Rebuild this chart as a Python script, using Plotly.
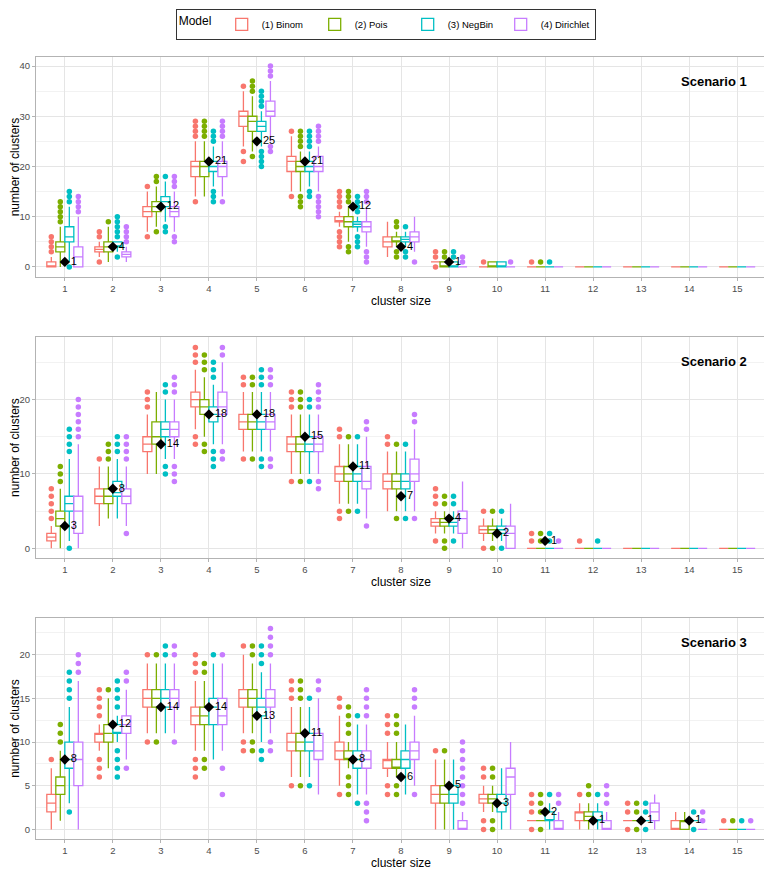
import plotly.graph_objects as go
from plotly.subplots import make_subplots

SIZES = list(range(1, 16))
MODELS = ["(1) Binom", "(2) Pois", "(3) NegBin", "(4) Dirichlet"]
COLORS = ["#F8766D", "#7CAE00", "#00BFC4", "#C77CFF"]
SCENARIOS = ["Scenario 1", "Scenario 2", "Scenario 3"]

Z = (0, 0, 0, 0, 0)

# box stats per cluster size: (lower whisker, q1, median, q3, upper whisker)
# ---- Scenario 1
S1_BINOM = [(0, 0, 0, 1, 2), (2, 3, 3.5, 4, 5), (7, 10, 11, 12, 15), (14, 18, 20, 21, 25),
            (24, 28, 30, 31, 35), (15, 19, 21, 22, 26), (8, 9, 9, 10, 11), (2, 4, 5, 6, 9),
            (1, 1, 1, 1, 1), Z, Z, Z, Z, Z, Z]
S1_BINOM_OUT = [[3, 4, 5, 6], [1, 6, 7], [6, 16], [13, 26, 27, 28, 29], [21, 23, 36], [14, 27],
                [4, 5, 6, 7, 12, 13, 14, 15], [], [0, 2, 3], [1], [1], [], [], [], []]
S1_POIS = [(0, 3, 4, 5, 8), (1, 3, 4, 5, 8), (8, 11, 12, 13, 16), (14, 18, 20, 21, 25),
           (23, 27, 29, 30, 34), (15, 19, 20, 21, 23), (5, 8, 9, 10, 12), (4, 5, 5, 6, 7),
           (0, 0, 0, 1, 1), (0, 0, 0, 1, 1), Z, Z, Z, Z, Z]
S1_POIS_OUT = [[9, 10, 11, 12, 13], [9], [7, 17, 18], [26, 27, 28, 29], [22, 35, 36, 37],
               [12, 13, 14, 24, 25, 26, 27], [3, 4, 13, 14, 15], [2, 3, 8, 9], [2, 3], [], [1],
               [], [], [], []]
S1_NEGBIN = [(1, 5, 6, 8, 12), (3, 4, 4, 5, 5), (9, 12, 13, 14, 17), (16, 19, 20, 21, 24),
             (24, 27, 28, 29, 31), (16, 19, 20, 21, 23), (7, 8, 8.5, 9, 10), (4, 5, 5.5, 6, 7),
             (0, 0, 0, 1, 1), (0, 0, 0, 1, 1), Z, Z, Z, Z, Z]
S1_NEGBIN_OUT = [[0, 13, 14, 15], [2, 6, 7, 8, 9, 10], [7, 8, 18], [13, 14, 15, 25, 26, 27],
                 [20, 21, 22, 23, 32, 33, 34, 35], [14, 15, 24, 25, 26, 27],
                 [4, 5, 6, 11, 12, 13, 14], [2, 3, 8], [2, 3], [], [1], [], [], [], []]
S1_DIRICHLET = [(0, 0, 2, 4, 10), (1, 2, 2.5, 3, 4), (7, 10, 11, 12, 15), (14, 18, 20, 21, 25),
                (25, 30, 31, 33, 37), (15, 19, 20, 22, 24), (4, 7, 8, 9, 12), (3, 5, 6, 7, 10),
                Z, Z, Z, Z, Z, Z, Z]
S1_DIRICHLET_OUT = [[11, 12, 13, 14], [5, 6, 7, 8], [5, 6, 16, 17, 18], [13, 26, 27, 28, 29],
                    [23, 24, 38, 39, 40], [10, 11, 12, 13, 14, 25, 26, 27, 28],
                    [1, 2, 3, 13, 14, 15], [1], [1, 2], [1], [], [], [], [], []]
S1_TRUTH = [1, 4, 12, 21, 25, 21, 12, 4, 1, 0, 0, 0, 0, 0, 0]

# ---- Scenario 2
S2_BINOM = [(0, 1, 1.5, 2, 3), (3, 6, 7, 8, 11), (10, 13, 14, 15, 18), (16, 19, 20, 21, 24),
            (13, 16, 17, 18, 21), (10, 13, 14, 15, 18), (6, 9, 10, 11, 14), (5, 8, 9, 10, 13),
            (2, 3, 3.5, 4, 5), (1, 2, 2.5, 3, 4), Z, Z, Z, Z, Z]
S2_BINOM_OUT = [[4, 5, 6, 7, 8], [12], [19, 20, 21], [14, 15, 25, 26, 27], [12, 22, 23],
                [9, 19, 20, 21], [4, 5, 15, 16], [14, 15], [1, 6, 7, 8], [0, 5], [1, 2], [1],
                [], [], []]
S2_POIS = [(0, 3, 4, 5, 8), (4, 6, 7, 8, 11), (10, 14, 15, 17, 21), (15, 18, 19, 20, 23),
           (13, 16, 17, 18, 21), (10, 13, 14, 15, 18), (6, 9, 10, 11, 14), (5, 8, 9, 10, 13),
           (2, 3, 3.5, 4, 5), (1, 2, 2.5, 3, 4), Z, Z, Z, Z, Z]
S2_POIS_OUT = [[9, 10, 11], [12, 13, 14], [], [13, 14, 24, 25, 26], [12, 22, 23],
               [9, 19, 20, 21], [5, 15], [4, 14], [0, 1, 6, 7], [0, 5], [1, 2], [], [], [], []]
S2_NEGBIN = [(1, 5, 6, 7, 12), (4, 7, 7.5, 9, 12), (12, 15, 16, 17, 20), (14, 17, 18, 19, 22),
             (13, 16, 17, 18, 21), (10, 13, 14, 15, 18), (6, 9, 10, 11, 14), (5, 8, 9, 10, 13),
             (2, 3, 3.5, 4, 5), (1, 2, 2.5, 3, 4), Z, Z, Z, Z, Z]
S2_NEGBIN_OUT = [[0, 13, 14, 15, 16], [13, 14, 15], [10, 11, 21, 22], [11, 12, 13, 23, 24, 25],
                 [11, 12, 22, 23, 24], [9, 19, 20], [5, 15], [4, 14], [1, 6, 7], [0, 5],
                 [1, 2], [1], [], [], []]
S2_DIRICHLET = [(0, 2, 5, 7, 14), (3, 6, 7, 8, 11), (12, 15, 16, 17, 20), (14, 18, 19, 21, 25),
                (13, 16, 17, 18, 21), (10, 13, 14, 15, 18), (4, 8, 9, 11, 15), (5, 9, 10, 12, 16),
                (0, 2, 4, 5, 9), (0, 0, 2, 3, 6), Z, Z, Z, Z, Z]
S2_DIRICHLET_OUT = [[15, 16, 17, 18, 19, 20], [2, 12, 13, 14, 15], [9, 10, 11, 21, 22, 23],
                    [12, 13, 26, 27], [11, 12, 22, 23, 24], [8, 9, 19, 20, 21, 22], [3, 16, 17],
                    [4, 17, 18], [], [], [1], [], [], [], []]
S2_TRUTH = [3, 8, 14, 18, 18, 15, 11, 7, 4, 2, 1, 0, 0, 0, 0]

# ---- Scenario 3
S3_BINOM = [(0, 2, 3, 4, 7), (9, 10, 11, 11, 12), (11, 14, 15, 16, 19), (9, 12, 13, 14, 17),
            (11, 14, 15, 16, 20), (6, 9, 10, 11, 14), (5, 8, 9, 10, 13), (6, 7, 8, 8, 10),
            (0, 3, 4, 5, 8), (2, 3, 3.5, 4, 5), (1, 1, 1, 1, 1), (0, 1, 2, 2, 3),
            (1, 1, 1, 1, 1), (0, 0, 0, 1, 2), Z]
S3_BINOM_OUT = [[8], [6, 7, 8, 13, 14, 15, 16], [10, 20], [6, 7, 8, 18, 19, 20], [9, 10, 21],
                [5, 15, 16, 17], [4, 14, 15], [4, 5, 11, 12, 13], [9], [0, 1, 6, 7],
                [0, 2, 3, 4], [4], [0, 2, 3], [], [1]]
S3_POIS = [(1, 4, 5, 6, 9), (7, 10, 11, 12, 15), (11, 14, 15, 16, 19), (9, 12, 13, 14, 17),
           (11, 14, 15, 16, 19), (6, 9, 10, 11, 14), (7, 8, 8, 9, 10), (6, 7, 7, 8, 10),
           (0, 3, 4, 5, 8), (2, 3, 3.5, 4, 5), (1, 1, 1, 1, 1), (0, 1, 1.5, 2, 3),
           (1, 1, 1, 1, 1), (0, 0, 1, 1, 2), Z]
S3_POIS_OUT = [[10, 11, 12], [16], [10, 20], [7, 8, 18, 19], [9, 10, 20, 21], [5, 15, 16, 17],
               [4, 5, 6, 11, 12, 13, 14], [4, 5, 11, 12, 13], [9], [0, 1, 6, 7], [0, 2, 3, 4],
               [4, 5], [0, 2, 3], [], [1]]
S3_NEGBIN = [(3, 7, 8, 10, 14), (10, 11, 11, 12, 13), (11, 14, 15, 16, 19), (8, 12, 14, 15, 19),
             (10, 13, 14, 15, 18), (6, 9, 10, 11, 14), (4, 7, 8, 9, 12), (4, 7, 8, 9, 12),
             (0, 3, 4, 5, 8), (0, 2, 3, 4, 7), (0, 1, 1, 2, 3), (0, 1, 1, 2, 3),
             (1, 1, 1, 1, 1), (1, 1, 1, 1, 1), Z]
S3_NEGBIN_OUT = [[2, 15, 16, 17, 18], [6, 7, 8, 9, 14, 15, 16, 17], [20, 21], [20],
                 [8, 9, 19, 20, 21], [5, 15], [3, 13], [], [], [], [4], [4], [0, 2, 3],
                 [0, 2], [1]]
S3_DIRICHLET = [(0, 5, 8, 10, 17), (8, 11, 12, 13, 16), (11, 14, 15, 16, 19), (9, 12, 13, 15, 19),
                (11, 14, 15, 16, 19), (4, 8, 9, 11, 15), (4, 7, 8, 9, 12), (5, 8, 9, 10, 13),
                (0, 0, 0, 1, 2), (0, 4, 6, 7, 10), (0, 0, 0, 1, 2), (0, 0, 0, 1, 2),
                (0, 1, 2, 3, 4), Z, Z]
S3_DIRICHLET_OUT = [[18, 19, 20], [7, 17, 18], [10, 20, 21], [4, 7, 20], [9, 10, 20, 21, 22, 23],
                    [16, 17], [1, 2, 3, 13, 14, 15, 16], [4, 14, 15, 16],
                    [3, 4, 5, 6, 7, 8, 9, 10], [], [3, 4], [3, 4, 5], [], [1, 2], [1]]
S3_TRUTH = [8, 12, 14, 14, 13, 11, 8, 6, 5, 3, 2, 1, 1, 1, 0]

PANELS = [
    ([S1_BINOM, S1_POIS, S1_NEGBIN, S1_DIRICHLET],
     [S1_BINOM_OUT, S1_POIS_OUT, S1_NEGBIN_OUT, S1_DIRICHLET_OUT], S1_TRUTH),
    ([S2_BINOM, S2_POIS, S2_NEGBIN, S2_DIRICHLET],
     [S2_BINOM_OUT, S2_POIS_OUT, S2_NEGBIN_OUT, S2_DIRICHLET_OUT], S2_TRUTH),
    ([S3_BINOM, S3_POIS, S3_NEGBIN, S3_DIRICHLET],
     [S3_BINOM_OUT, S3_POIS_OUT, S3_NEGBIN_OUT, S3_DIRICHLET_OUT], S3_TRUTH),
]

# layout settings (the page adds an 8px body margin, so the figure is 8px smaller)
Y_RANGES = [[-2, 41.8], [-1.3, 28.4], [-1.1, 24.2]]
Y_DTICK = [10, 10, 5]
DOMAINS = [[0.7187, 1.0], [0.3593, 0.6419], [0.0, 0.2826]]
DODGE = 0.75 / 4   # ggplot-style dodge width per box
FONT = "Liberation Sans, Arial, sans-serif"
GRID = "#E5E5E5"
BORDER = "#B3B3B3"

fig = make_subplots(rows=3, cols=1)

for r, (stats, outs, truth) in enumerate(PANELS, start=1):
    for i, model in enumerate(MODELS):
        st = stats[i]
        fig.add_trace(go.Box(
            x=SIZES,
            lowerfence=[s[0] for s in st], q1=[s[1] for s in st], median=[s[2] for s in st],
            q3=[s[3] for s in st], upperfence=[s[4] for s in st],
            name=model, legendgroup=model, showlegend=(r == 1), offsetgroup=model,
            line=dict(color=COLORS[i], width=1.3), fillcolor="white",
            marker_color=COLORS[i], whiskerwidth=0, boxpoints=False, hoverinfo="skip",
        ), row=r, col=1)
    # outliers, dodged the same way as the boxes
    for i, model in enumerate(MODELS):
        xs, ys = [], []
        for s, pts in zip(SIZES, outs[i]):
            for v in pts:
                xs.append(s + DODGE * (i - 1.5))
                ys.append(v)
        fig.add_trace(go.Scatter(
            x=xs, y=ys, mode="markers", marker=dict(color=COLORS[i], size=5.5),
            showlegend=False, legendgroup=model, hoverinfo="skip",
        ), row=r, col=1)
    # true values
    tx = [s for s, t in zip(SIZES, truth) if t > 0]
    ty = [t for t in truth if t > 0]
    fig.add_trace(go.Scatter(
        x=tx, y=ty, mode="markers+text", text=[str(t) for t in ty],
        textposition="middle right", textfont=dict(size=11, color="black", family=FONT),
        marker=dict(symbol="diamond", size=8, color="black"),
        showlegend=False, hoverinfo="skip",
    ), row=r, col=1)

    fig.update_xaxes(
        range=[0.4, 15.6], tickvals=SIZES, showgrid=True, gridcolor=GRID, gridwidth=1,
        showline=True, linecolor=BORDER, mirror=True, zeroline=False,
        ticks="outside", ticklen=3, tickcolor=BORDER,
        tickfont=dict(size=9.5, color="#4D4D4D"),
        title=dict(text="cluster size", font=dict(size=12, color="black"), standoff=2),
        automargin=False, row=r, col=1)
    fig.update_yaxes(
        range=Y_RANGES[r - 1], dtick=Y_DTICK[r - 1], tick0=0, domain=DOMAINS[r - 1],
        showgrid=True, gridcolor=GRID, gridwidth=1,
        minor=dict(dtick=Y_DTICK[r - 1] / 2, showgrid=True, gridcolor="#F2F2F2", gridwidth=1),
        showline=True, linecolor=BORDER, mirror=True, zeroline=False,
        ticks="outside", ticklen=3, tickcolor=BORDER,
        tickfont=dict(size=9.5, color="#4D4D4D"),
        title=dict(text="number of clusters", font=dict(size=12, color="black"), standoff=0),
        automargin=False, row=r, col=1)

    sfx = "" if r == 1 else str(r)
    fig.add_annotation(
        text="<b>" + SCENARIOS[r - 1] + "</b>", xref=f"x{sfx} domain", yref=f"y{sfx} domain",
        x=0.977, y=0.89, xanchor="right", yanchor="middle", showarrow=False,
        font=dict(size=13, color="black", family=FONT))

fig.update_layout(
    width=764, height=864,
    margin=dict(l=28, r=6, t=49, b=33, autoexpand=False),
    paper_bgcolor="white", plot_bgcolor="white",
    font=dict(family=FONT, color="black"),
    boxmode="group", boxgap=0.25, boxgroupgap=0,
    legend=dict(
        orientation="h", x=0.479, xanchor="center",
        yref="container", y=0.999, yanchor="top", itemwidth=30,
        entrywidth=48, entrywidthmode="pixels",
        title=dict(text="Model ", side="left", font=dict(size=12)), font=dict(size=9.5),
        bordercolor="#333333", borderwidth=1, bgcolor="white",
    ),
)

fig.write_html("out.html")
